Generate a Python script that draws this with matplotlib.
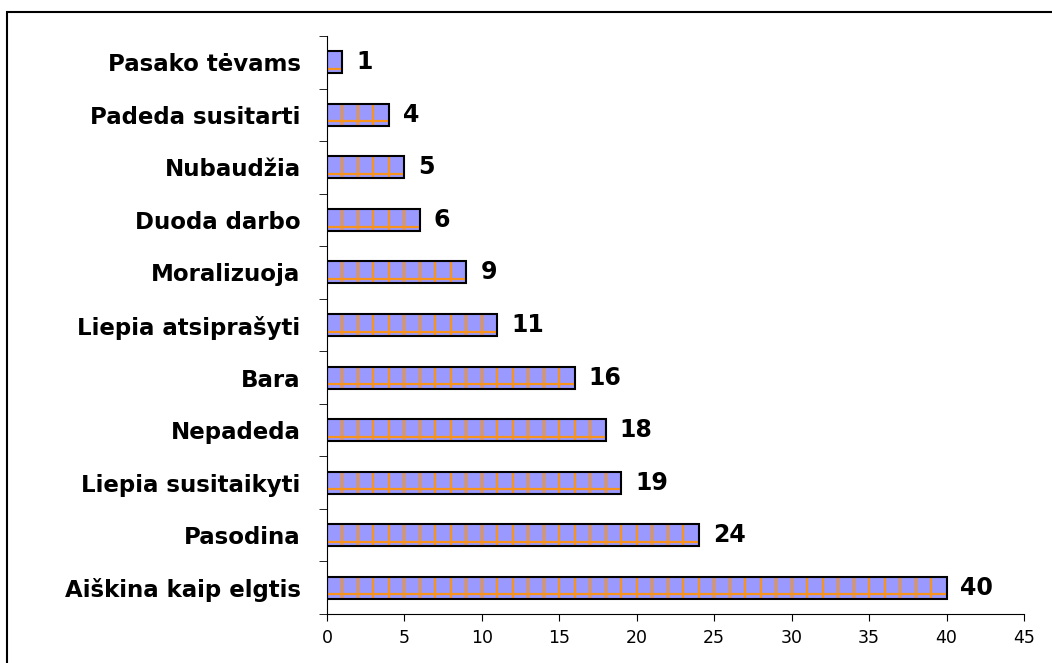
import numpy as np
import matplotlib.pyplot as plt
from matplotlib.patches import Rectangle

plt.rcParams['font.family'] = ['DejaVu Sans']

categories = ['Aiškina kaip elgtis', 'Pasodina', 'Liepia susitaikyti', 'Nepadeda', 'Bara',
              'Liepia atsiprašyti', 'Moralizuoja', 'Duoda darbo', 'Nubaudžia',
              'Padeda susitarti', 'Pasako tėvams']
values = [40, 24, 19, 18, 16, 11, 9, 6, 5, 4, 1]

fig = plt.figure(figsize=(10.52, 6.63), dpi=100)
ax = fig.add_axes([327 / 1052, 49 / 663, 697 / 1052, 578 / 663])

y = np.arange(len(categories))
h = 0.42
ax.barh(y, values, height=h, color='#9999ff', zorder=2)

# orange grid inside bars
orange = '#f7941d'
for yi, v in zip(y, values):
    xs = np.arange(1, v)
    ax.vlines(xs, yi - h / 2, yi + h / 2, color=orange, lw=1.6, zorder=3)
    ax.hlines(yi - h / 2 + h * 0.2, 0, v, color=orange, lw=1.6, zorder=3)
ax.barh(y, values, height=h, facecolor='none', edgecolor='black', lw=1.5, zorder=4)

for yi, v in zip(y, values):
    ax.text(v + 0.9, yi, str(v), va='center', ha='left', fontsize=17, fontweight='bold')

ax.set_xlim(0, 45)
ax.set_ylim(-0.5, len(categories) - 0.5)
ax.set_xticks(np.arange(0, 46, 5))
ax.tick_params(axis='x', labelsize=12.5, length=5, direction='out', pad=6)
ax.set_yticks(y)
ax.set_yticklabels(categories, fontsize=16.5, fontweight='bold')
ax.tick_params(axis='y', which='major', length=0, pad=19)
ax.set_yticks(np.arange(-0.5, len(categories), 1), minor=True)
ax.tick_params(axis='y', which='minor', length=6)
for s in ['top', 'right']:
    ax.spines[s].set_visible(False)

fig.patches.append(Rectangle((7 / 1052, -0.01), 1.0, 1.01 - 12 / 663, transform=fig.transFigure,
                             fill=False, edgecolor='black', lw=1.5))

fig.savefig('out.png', dpi=100)
